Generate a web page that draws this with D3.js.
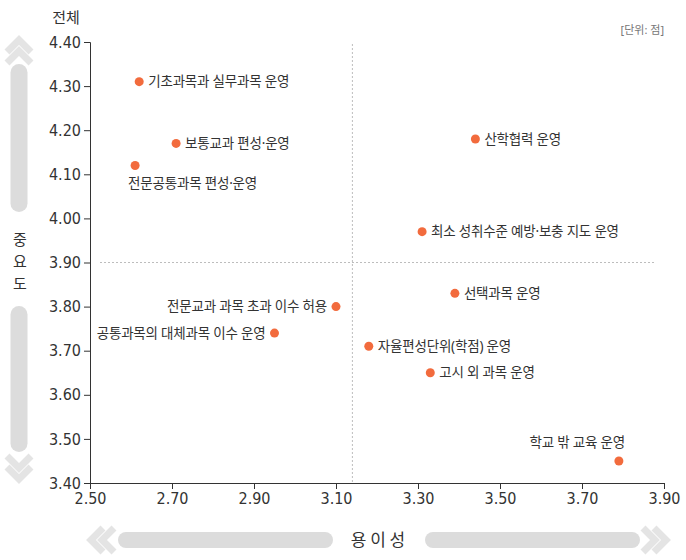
<!DOCTYPE html>
<html>
<head>
<meta charset="utf-8">
<script src="https://cdn.jsdelivr.net/npm/d3@7"></script>
<style>
	body { margin: 0; background: #fff; }
	svg { display: block; }
	.tick text { font-family: "Liberation Sans Narrow", "DejaVu Sans Condensed", Roboto, sans-serif; font-stretch: condensed; }
</style>
</head>
<body>
<div id="wrapper"></div>
<script>
// data
const items = [
	"기초과목과 실무과목 운영",
	"보통교과 편성·운영",
	"전문공통과목 편성·운영",
	"산학협력 운영",
	"최소 성취수준 예방·보충 지도 운영",
	"선택과목 운영",
	"전문교과 과목 초과 이수 허용",
	"공통과목의 대체과목 이수 운영",
	"자율편성단위(학점) 운영",
	"고시 외 과목 운영",
	"학교 밖 교육 운영",
];
const ease = [2.62, 2.71, 2.61, 3.44, 3.31, 3.39, 3.1, 2.95, 3.18, 3.33, 3.79];
const importance = [4.31, 4.17, 4.12, 4.18, 3.97, 3.83, 3.8, 3.74, 3.71, 3.65, 3.45];
const labelPos = ["right", "right", "below", "right", "right", "right", "left", "left", "right", "right", "above"];
const xTicks = [2.5, 2.7, 2.9, 3.1, 3.3, 3.5, 3.7, 3.9];
const yTicks = [3.4, 3.5, 3.6, 3.7, 3.8, 3.9, 4.0, 4.1, 4.2, 4.3, 4.4];
const meanEase = 3.14;
const meanImportance = 3.9;

const dimensions = {
	width: 686,
	height: 560,
	margins: { top: 42, right: 22, bottom: 77, left: 90 },
};
dimensions.boundedWidth = dimensions.width - dimensions.margins.left - dimensions.margins.right;
dimensions.boundedHeight = dimensions.height - dimensions.margins.top - dimensions.margins.bottom;

const kr = "'Noto Sans CJK KR', 'Noto Sans', sans-serif";
// latin first so the middle dot and brackets stay narrow
const labelFont = "'Noto Sans', 'Noto Sans CJK KR', sans-serif";
const grey = "#dcdcdc";
const chevGrey = "#e4e4e4";

const svg = d3
	.select("#wrapper")
	.append("svg")
	.attr("width", dimensions.width)
	.attr("height", dimensions.height);

const bounds = svg
	.append("g")
	.attr("transform", `translate(${dimensions.margins.left}, ${dimensions.margins.top})`);

const xScale = d3.scaleLinear().domain([2.5, 3.9]).range([0, dimensions.boundedWidth]);
const yScale = d3.scaleLinear().domain([3.4, 4.4]).range([dimensions.boundedHeight, 0]);

// reference lines
bounds
	.append("line")
	.attr("x1", xScale(meanEase))
	.attr("x2", xScale(meanEase))
	.attr("y1", 2)
	.attr("y2", dimensions.boundedHeight)
	.attr("stroke", "#bdbdbd")
	.attr("stroke-dasharray", "2,2");
bounds
	.append("line")
	.attr("x1", 10)
	.attr("x2", dimensions.boundedWidth - 10)
	.attr("y1", yScale(meanImportance))
	.attr("y2", yScale(meanImportance))
	.attr("stroke", "#bdbdbd")
	.attr("stroke-dasharray", "2,2");

// axes
const xAxis = bounds
	.append("g")
	.attr("transform", `translate(0, ${dimensions.boundedHeight})`)
	.call(d3.axisBottom(xScale).tickValues(xTicks).tickFormat(d3.format(".2f")).tickSize(6).tickPadding(4));
const yAxis = bounds
	.append("g")
	.call(d3.axisLeft(yScale).tickValues(yTicks).tickFormat(d3.format(".2f")).tickSize(6).tickPadding(3));

[xAxis, yAxis].forEach((ax) => {
	ax.selectAll("path, line").attr("stroke", "#333");
	ax.selectAll("text").attr("fill", "#333").style("font-size", "16px");
});

// points
const data = items.map((name, i) => ({ name, x: ease[i], y: importance[i], pos: labelPos[i] }));

bounds
	.selectAll("circle")
	.data(data)
	.join("circle")
	.attr("cx", (d) => xScale(d.x))
	.attr("cy", (d) => yScale(d.y))
	.attr("r", 4.5)
	.attr("fill", "#f26b3d");

bounds
	.selectAll(".label")
	.data(data)
	.join("text")
	.attr("class", "label")
	.attr("x", (d) => {
		const cx = xScale(d.x);
		if (d.pos === "left") return cx - 9;
		if (d.pos === "below") return cx - 7;
		if (d.pos === "above") return cx + 6;
		return cx + 9;
	})
	.attr("y", (d) => {
		const cy = yScale(d.y);
		if (d.pos === "below") return cy + 23;
		if (d.pos === "above") return cy - 14;
		return cy + 4.5;
	})
	.attr("text-anchor", (d) => (d.pos === "left" || d.pos === "above" ? "end" : "start"))
	.attr("fill", "#333")
	.style("font-family", labelFont)
	.style("font-size", "13.5px")
	.style("letter-spacing", "-0.2px")
	.text((d) => d.name);

// titles
svg.append("text")
	.attr("x", 66)
	.attr("y", 23)
	.attr("text-anchor", "middle")
	.attr("fill", "#333")
	.style("font-family", kr)
	.style("font-size", "15px")
	.text("전체");

svg.append("text")
	.attr("x", 664)
	.attr("y", 34)
	.attr("text-anchor", "end")
	.attr("fill", "#777")
	.style("font-family", labelFont)
	.style("font-size", "11px")
	.text("[단위: 점]");

// importance arrow (vertical)
const vx = 19;
const yMid = yScale(meanImportance) + dimensions.margins.top;
svg.append("rect").attr("x", vx - 8.5).attr("y", 64).attr("width", 17).attr("height", 148).attr("rx", 8.5).attr("fill", grey);
svg.append("rect").attr("x", vx - 8.5).attr("y", 306).attr("width", 17).attr("height", 146).attr("rx", 8.5).attr("fill", grey);

const chevron = (pts) =>
	svg.append("polyline")
		.attr("points", pts.map((p) => p.join(",")).join(" "))
		.attr("fill", "none")
		.attr("stroke", chevGrey)
		.attr("stroke-width", 7)
		.attr("stroke-linejoin", "miter");

chevron([[vx - 12, 52], [vx, 40], [vx + 12, 52]]);
chevron([[vx - 12, 63], [vx, 51], [vx + 12, 63]]);
chevron([[vx - 12, 456], [vx, 468], [vx + 12, 456]]);
chevron([[vx - 12, 467], [vx, 479], [vx + 12, 467]]);

// stacked upright characters
const vTitle = "중요도".split("");
svg.append("g")
	.selectAll("text")
	.data(vTitle)
	.join("text")
	.attr("x", vx + 1)
	.attr("y", (d, i) => yMid + 4 + (i - 1) * 22)
	.attr("text-anchor", "middle")
	.attr("fill", "#333")
	.style("font-family", kr)
	.style("font-size", "15px")
	.text((d) => d);

// ease arrow (horizontal)
const hy = 540;
svg.append("rect").attr("x", 118).attr("y", hy - 8).attr("width", 215).attr("height", 16).attr("rx", 8).attr("fill", grey);
svg.append("rect").attr("x", 425).attr("y", hy - 8).attr("width", 215).attr("height", 16).attr("rx", 8).attr("fill", grey);
chevron([[103, hy - 12], [91, hy], [103, hy + 12]]);
chevron([[114, hy - 12], [102, hy], [114, hy + 12]]);
chevron([[654, hy - 12], [666, hy], [654, hy + 12]]);
chevron([[643, hy - 12], [655, hy], [643, hy + 12]]);

svg.append("text")
	.attr("x", 378)
	.attr("y", hy + 6)
	.attr("text-anchor", "middle")
	.attr("fill", "#333")
	.style("font-family", kr)
	.style("font-size", "17px")
	.text("용 이 성");
</script>
</body>
</html>
